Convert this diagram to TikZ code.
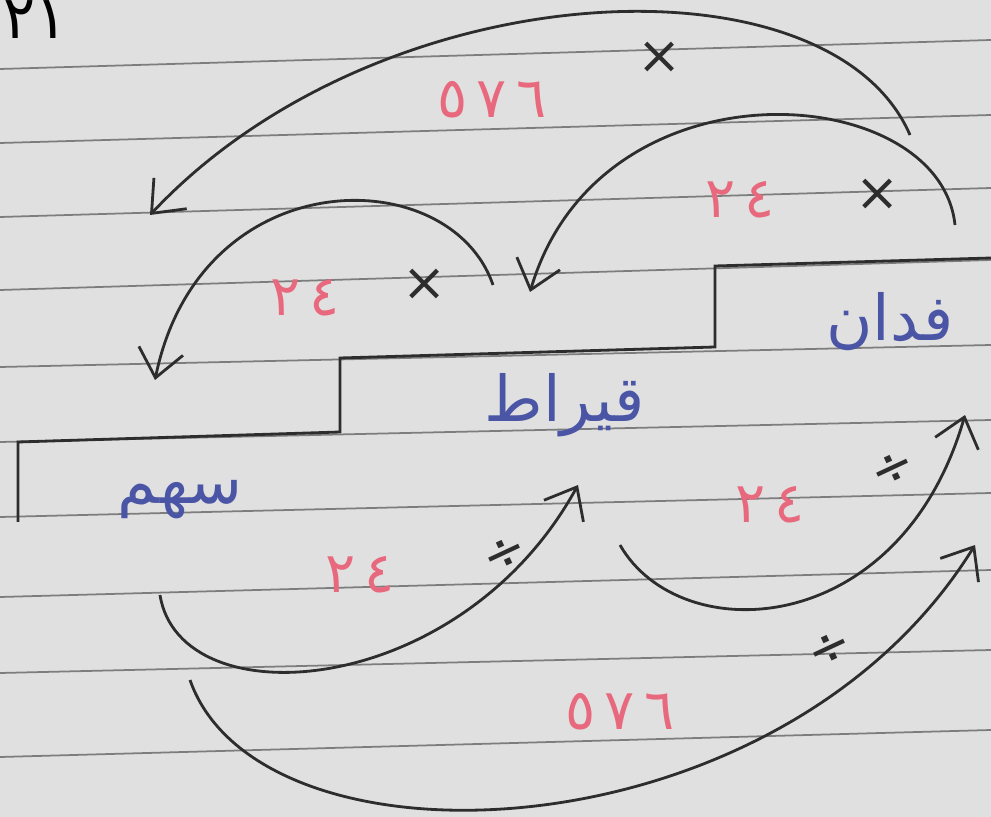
\documentclass[tikz,border=0pt]{standalone}
\usepackage{fontspec}
\usetikzlibrary{arrows.meta}
\newfontfamily\arabicfont[Script=Arabic]{DejaVu Sans}
\TeXXeTstate=1
\definecolor{paper}{RGB}{224,224,224}
\definecolor{rule}{RGB}{125,125,125}
\definecolor{ink}{RGB}{45,45,45}
\definecolor{redpen}{RGB}{232,105,125}
\definecolor{bluepen}{RGB}{75,85,165}

\begin{document}
\begin{tikzpicture}[x=0.02cm,y=-0.02cm,
  unit/.style={text=bluepen,font=\arabicfont\fontsize{36}{40}\selectfont},
  factor/.style={text=redpen,font=\arabicfont\fontsize{32}{36}\selectfont},
  op/.style={text=ink,font=\arabicfont\fontsize{30}{34}\selectfont},
  conv/.style={draw=ink,line width=1.6pt,-{Straight Barb[length=5.5mm,width=9mm]}},
]
% Paper
\fill[paper] (0,0) rectangle (991,817);
\useasboundingbox (0,0) rectangle (991,817);
\foreach \yl/\yr in {69/40,143/115,217/188,290/260,367/345,442/420,517/493,597/570,673/650,757/730}
  \draw[rule,line width=1pt] (0,\yl) -- (991,\yr);
\node[text=black,font=\arabicfont\fontsize{34}{38}\selectfont] (page) at (36,20) {٢١};

% Steps
\draw[ink,line width=1.6pt] (18,522) -- (18,442) -- (340,432) -- (340,358) -- (715,347) -- (715,266) -- (991,258);

% Units
\node[unit] (feddan) at (890,322) {\beginR فدان\endR};
\node[unit] (qirat) at (565,405) {\beginR قيراط\endR};
\node[unit] (sahm) at (180,500) {\beginR سهم\endR};

% Arrow ends
\coordinate (f1) at (910,135);
\coordinate (s1) at (150,215);
\coordinate (f2) at (955,225);
\coordinate (q1) at (530,292);
\coordinate (q2) at (493,285);
\coordinate (s2) at (155,380);
\coordinate (s3) at (160,595);
\coordinate (q3) at (578,485);
\coordinate (q4) at (620,545);
\coordinate (f3) at (965,415);
\coordinate (s4) at (190,680);
\coordinate (f4) at (975,545);

% Multiply
\draw[conv] (f1) .. controls (830,-50) and (380,-30) .. (s1);
\draw[conv] (f2) .. controls (940,80) and (600,55) .. (q1);
\draw[conv] (q2) .. controls (450,160) and (200,160) .. (s2);
% Divide
\draw[conv] (s3) .. controls (180,720) and (460,700) .. (q3);
\draw[conv] (q4) .. controls (680,650) and (900,640) .. (f3);
\draw[conv] (s4) .. controls (260,880) and (780,860) .. (f4);

% Factors
\node[factor] (m1) at (492,100) {٥\,٧\,٦};
\node[op] (x1) at (660,58) {×};
\node[factor] (m2) at (740,200) {٢\,٤};
\node[op] (x2) at (878,195) {×};
\node[factor] (m3) at (305,298) {٢\,٤};
\node[op] (x3) at (425,285) {×};
\node[factor] (d1) at (360,575) {٢\,٤};
\node[op,rotate=25] (v1) at (505,555) {÷};
\node[factor] (d2) at (770,505) {٢\,٤};
\node[op,rotate=25] (v2) at (893,470) {÷};
\node[factor] (d3) at (620,712) {٥\,٧\,٦};
\node[op,rotate=25] (v3) at (830,650) {÷};
\end{tikzpicture}
\end{document}
